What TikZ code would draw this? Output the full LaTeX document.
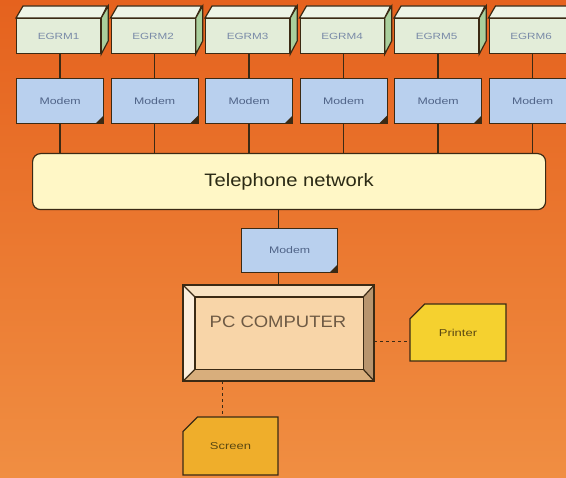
\documentclass[tikz,border=0pt]{standalone}
\usepackage{fontspec}
\setmainfont{Liberation Sans}
\newfontfamily\labfont[FakeStretch=1.3]{Liberation Sans}
\newfontfamily\bigfont[FakeStretch=1.12]{Liberation Sans}
\usetikzlibrary{shapes.misc}
\definecolor{bgtop}{HTML}{E5621E}
\definecolor{bgbot}{HTML}{F08E42}
\definecolor{edgec}{HTML}{3B2A14}
\definecolor{egrmface}{HTML}{E3EDD9}
\definecolor{egrmtop}{HTML}{EEF4E6}
\definecolor{egrmside}{HTML}{A9CF9C}
\definecolor{egrmtext}{HTML}{7A8BA8}
\definecolor{modemc}{HTML}{B9D0EE}
\definecolor{modemtext}{HTML}{506488}
\definecolor{netc}{HTML}{FFF7C6}
\definecolor{nettext}{HTML}{2B2A14}
\definecolor{pcface}{HTML}{F8D5A8}
\definecolor{pctop}{HTML}{F8E2C2}
\definecolor{pcleft}{HTML}{FCEEDC}
\definecolor{pcright}{HTML}{B8956E}
\definecolor{pcbot}{HTML}{D8AE7C}
\definecolor{pctext}{HTML}{6E5A44}
\definecolor{printc}{HTML}{F5D12F}
\definecolor{screenc}{HTML}{EFAE2B}
\definecolor{devtext}{HTML}{5A4812}
\begin{document}
\begin{tikzpicture}[x=1pt,y=-1pt,
  edge/.style={draw=edgec,line width=1.2pt},
  link/.style={draw=edgec,line width=1.5pt},
  egrm/.style={edge,fill=egrmface,minimum width=84pt,minimum height=35pt,inner sep=0pt,
    text=egrmtext,font=\labfont\fontsize{9}{10}\selectfont,
    append after command={\pgfextra{
      \draw[edge,fill=egrmtop] (\tikzlastnode.north west) -- ++(7,-12) -- ++(84,0) -- (\tikzlastnode.north east) -- cycle;
      \draw[edge,fill=egrmside] (\tikzlastnode.north east) -- ++(7,-12) -- ++(0,35) -- (\tikzlastnode.south east) -- cycle;}}},
  modem/.style={edge,fill=modemc,minimum width=87pt,minimum height=45pt,inner sep=0pt,
    text=modemtext,font=\labfont\fontsize{9.5}{10}\selectfont,
    path picture={\fill[edgec] (path picture bounding box.south east) -- ++(-8,0) -- ++(8,-8) -- cycle;}},
  device/.style={edge,chamfered rectangle,chamfered rectangle corners=north west,
    chamfered rectangle xsep=20pt,chamfered rectangle ysep=11pt,inner sep=0pt,
    text=devtext,font=\labfont\fontsize{10}{11}\selectfont}]

\useasboundingbox (0,0) rectangle (566,478);
\clip (0,0) rectangle (566,478);
\shade[top color=bgtop,bottom color=bgbot] (0,0) rectangle (566,478);

\node[egrm,below right] (e1) at (16,18) {EGRM1};
\node[egrm,below right] (e2) at (110.5,18) {EGRM2};
\node[egrm,below right] (e3) at (205,18) {EGRM3};
\node[egrm,below right] (e4) at (299.5,18) {EGRM4};
\node[egrm,below right] (e5) at (394,18) {EGRM5};
\node[egrm,below right] (e6) at (488.5,18) {EGRM6};

\node[modem,below right] (m1) at (16,78) {Modem};
\node[modem,below right] (m2) at (110.5,78) {Modem};
\node[modem,below right] (m3) at (205,78) {Modem};
\node[modem,below right] (m4) at (299.5,78) {Modem};
\node[modem,below right] (m5) at (394,78) {Modem};
\node[modem,below right] (m6) at (488.5,78) {Modem};

\node[below right,edge,fill=netc,rounded corners=8pt,minimum width=513pt,minimum height=56pt,
  text=nettext,font=\bigfont\fontsize{18}{20}\selectfont] (net) at (32,153) {Telephone network};

\draw[link] (m1.north) -- (m1.north |- e1.south);
\draw[link] (m2.north) -- (m2.north |- e2.south);
\draw[link] (m3.north) -- (m3.north |- e3.south);
\draw[link] (m4.north) -- (m4.north |- e4.south);
\draw[link] (m5.north) -- (m5.north |- e5.south);
\draw[link] (m6.north) -- (m6.north |- e6.south);
\draw[link] (m1.south) -- (m1.south |- net.north);
\draw[link] (m2.south) -- (m2.south |- net.north);
\draw[link] (m3.south) -- (m3.south |- net.north);
\draw[link] (m4.south) -- (m4.south |- net.north);
\draw[link] (m5.south) -- (m5.south |- net.north);
\draw[link] (m6.south) -- (m6.south |- net.north);

\node[below right,edge,fill=pcface,minimum width=190pt,minimum height=95pt] (pc) at (183,285) {};
\draw[link] (pc.north) -- (pc.north |- net.south);
\node[modem,below right,minimum width=96pt,minimum height=44pt] (mpc) at (241,228) {Modem};

\coordinate (pc1) at ([shift={(12,12)}]pc.north west);
\coordinate (pc2) at ([shift={(-11,12)}]pc.north east);
\coordinate (pc3) at ([shift={(-11,-12)}]pc.south east);
\coordinate (pc4) at ([shift={(12,-12)}]pc.south west);
\fill[pctop] (pc.north west) -- (pc.north east) -- (pc2) -- (pc1) -- cycle;
\fill[pcleft] (pc.north west) -- (pc1) -- (pc4) -- (pc.south west) -- cycle;
\fill[pcright] (pc.north east) -- (pc.south east) -- (pc3) -- (pc2) -- cycle;
\fill[pcbot] (pc.south west) -- (pc4) -- (pc3) -- (pc.south east) -- cycle;
\draw[edge] (pc1) rectangle (pc3);
\draw[edge] (pc.north west) -- (pc1) (pc.north east) -- (pc2) (pc.south east) -- (pc3) (pc.south west) -- (pc4);
\draw[edge,line width=1.6pt] (pc.north west) rectangle (pc.south east);
\node[text=pctext,font=\bigfont\fontsize{16.5}{18}\selectfont] (pclab) at (278,322) {PC COMPUTER};

\node[device,fill=printc,minimum width=96pt,minimum height=57pt] (prn) at (458,332.5) {Printer};
\node[device,fill=screenc,minimum width=95pt,minimum height=58pt] (scr) at (230.5,446) {Screen};

\coordinate (prnin) at (prn.west |- 0,342);
\coordinate (scrin) at (scr.north -| 222,0);
\draw[link,dashed,line width=1pt] (prnin -| pc.east) -- (prnin);
\draw[link,dashed,line width=1pt] (scrin |- pc.south) -- (scrin);
\end{tikzpicture}
\end{document}
